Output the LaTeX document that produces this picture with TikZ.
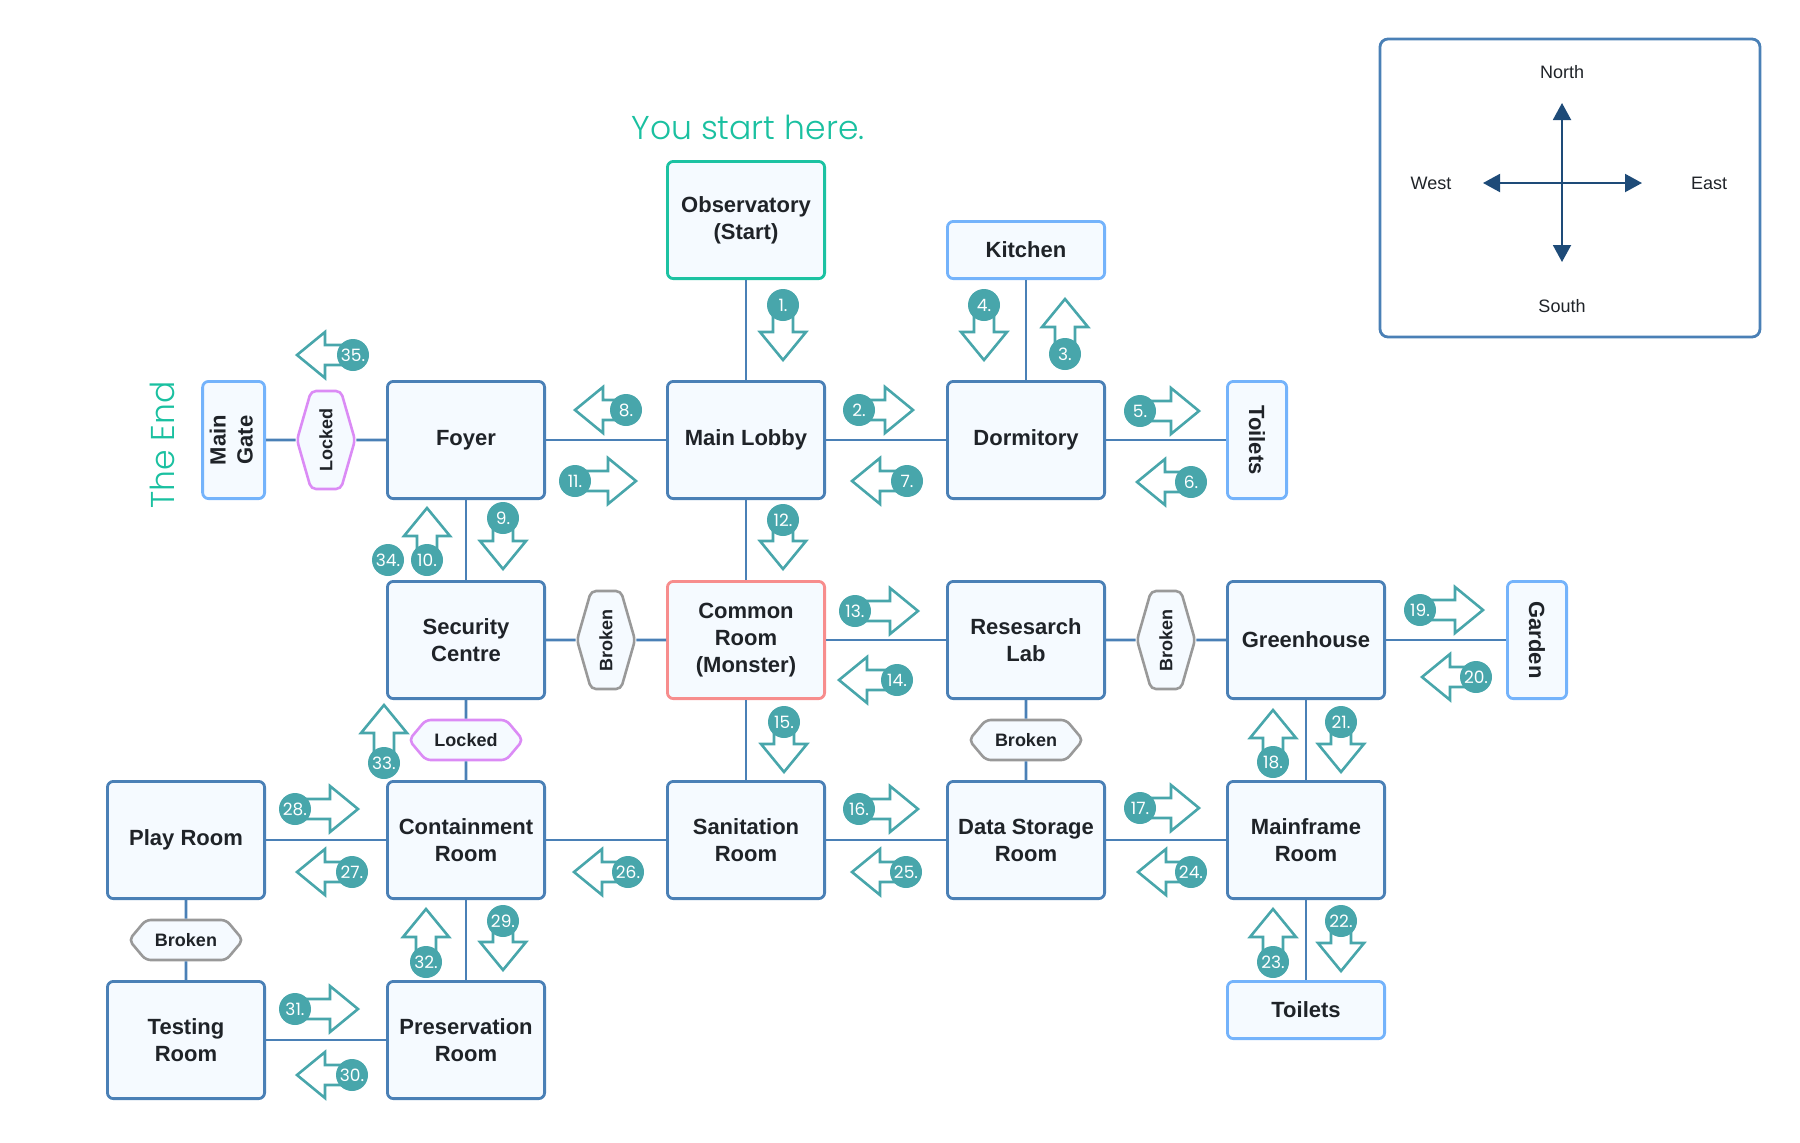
\documentclass[tikz,border=0pt]{standalone}
\usepackage{fontspec}
\setmainfont{Liberation Sans}
\newfontfamily\markfont{Poppins}
\newfontfamily\titlefont{Poppins Light}
\usetikzlibrary{shapes,shapes.symbols,arrows.meta,positioning,calc}

\definecolor{roomfill}{HTML}{F5FAFF}
\definecolor{roomline}{HTML}{4A80B6}
\definecolor{annexline}{HTML}{74B3FB}
\definecolor{startline}{HTML}{1CC2A2}
\definecolor{monsterline}{HTML}{F78D8D}
\definecolor{brokenline}{HTML}{999999}
\definecolor{lockedline}{HTML}{DB8BF5}
\definecolor{waycol}{HTML}{48A6AB}
\definecolor{ink}{HTML}{1F2328}
\definecolor{navy}{HTML}{1E4B78}
\definecolor{startcol}{HTML}{1AC0A0}

\begin{document}
\begin{tikzpicture}[
    x=0.5pt, y=-0.5pt,
    node distance=40pt and 60pt,
    room/.style={rectangle, draw=roomline, line width=1.4pt, fill=roomfill, rounded corners=3pt, minimum width=78.6pt, minimum height=58.6pt, inner sep=2pt, align=center, text=ink, font=\fontsize{11}{13.5}\selectfont\bfseries},
    annex/.style={room, draw=annexline},
    slim/.style={minimum width=29.6pt},
    low/.style={minimum height=28.6pt},
    hexa/.style={signal, signal to=east and west, line width=1.3pt, fill=roomfill, rounded corners=2.5pt, inner sep=0pt, text=ink, font=\fontsize{9}{11}\selectfont\bfseries},
    hflat/.style={hexa, minimum width=57pt, minimum height=20pt, signal pointer angle=100},
    htall/.style={hexa, minimum width=29pt, minimum height=49pt, signal pointer angle=148},
    broken/.style={draw=brokenline},
    locked/.style={draw=lockedline},
    link/.style={draw=roomline, line width=1.4pt},
    numdot/.style={circle, fill=waycol, text=white, minimum size=16pt, inner sep=0pt, font=\markfont\fontsize{8.5}{8.5}\selectfont},
    pics/way/.style={code={\draw[draw=waycol, fill=white, line width=1.3pt] (0,-10) -- (#1-28,-10) -- (#1-28,-23) -- (#1,0) -- (#1-28,23) -- (#1-28,10) -- (0,10) -- cycle;}},
    needle/.style={draw=navy, line width=1pt, -{Triangle[length=8.5pt, width=9pt]}},
    hint/.style={text=startcol, font=\titlefont\fontsize{16.5}{16.5}\selectfont},
    point/.style={text=ink, font=\fontsize{9}{9}\selectfont}
]
\useasboundingbox (0,0) rectangle (1800,1142);

% rooms
\node[room] (lobby) at (746,440) {Main Lobby};
\node[room, draw=startline, above=50pt of lobby] (obs) {Observatory\\(Start)};
\node[room, left=of lobby] (foyer) {Foyer};
\node[room, right=of lobby] (dorm) {Dormitory};
\node[annex, low, above=50pt of dorm] (kitchen) {Kitchen};
\node[annex, slim, right=of dorm] (wc) {\rotatebox{-90}{Toilets}};
\node[annex, slim, left=of foyer] (gate) {\rotatebox{90}{\begin{tabular}{@{}c@{}}Main\\Gate\end{tabular}}};
\node[room, draw=monsterline, below=of lobby] (common) {Common\\Room\\(Monster)};
\node[room, below=of foyer] (security) {Security\\Centre};
\node[room, below=of dorm] (lab) {Resesarch\\Lab};
\node[room, right=of lab] (greenhouse) {Greenhouse};
\node[annex, slim, right=of greenhouse] (garden) {\rotatebox{-90}{Garden}};
\node[room, below=of common] (sanitation) {Sanitation\\Room};
\node[room, below=of security] (containment) {Containment\\Room};
\node[room, left=of containment] (play) {Play Room};
\node[room, below=of lab] (storage) {Data Storage\\Room};
\node[room, below=of greenhouse] (mainframe) {Mainframe\\Room};
\node[annex, low, below=of mainframe] (wc2) {Toilets};
\node[room, below=of play] (testing) {Testing\\Room};
\node[room, below=of containment] (preservation) {Preservation\\Room};

% doors
\node[htall, locked] (lockgate) at ($(gate.east)!0.5!(foyer.west)$) {\rotatebox{90}{Locked}};
\node[htall, broken] (brokensec) at ($(security.east)!0.5!(common.west)$) {\rotatebox{90}{Broken}};
\node[htall, broken] (brokenlab) at ($(lab.east)!0.5!(greenhouse.west)$) {\rotatebox{90}{Broken}};
\node[hflat, locked] (lockcont) at ($(security.south)!0.5!(containment.north)$) {Locked};
\node[hflat, broken] (brokenstore) at ($(lab.south)!0.5!(storage.north)$) {Broken};
\node[hflat, broken] (brokenplay) at ($(play.south)!0.5!(testing.north)$) {Broken};

% corridors
\draw[link] (obs) -- (lobby);
\draw[link] (kitchen) -- (dorm);
\draw[link] (gate) -- (lockgate) -- (foyer);
\draw[link] (foyer) -- (lobby);
\draw[link] (lobby) -- (dorm);
\draw[link] (dorm) -- (wc);
\draw[link] (foyer) -- (security);
\draw[link] (lobby) -- (common);
\draw[link] (security) -- (brokensec) -- (common);
\draw[link] (common) -- (lab);
\draw[link] (lab) -- (brokenlab) -- (greenhouse);
\draw[link] (greenhouse) -- (garden);
\draw[link] (security) -- (lockcont) -- (containment);
\draw[link] (common) -- (sanitation);
\draw[link] (lab) -- (brokenstore) -- (storage);
\draw[link] (greenhouse) -- (mainframe);
\draw[link] (play) -- (containment);
\draw[link] (containment) -- (sanitation);
\draw[link] (sanitation) -- (storage);
\draw[link] (storage) -- (mainframe);
\draw[link] (mainframe) -- (wc2);
\draw[link] (play) -- (brokenplay) -- (testing);
\draw[link] (containment) -- (preservation);
\draw[link] (testing) -- (preservation);

% route
\pic[rotate=-90] at (783,305) {way=55}; \node[numdot] (s1) at (783,305) {1.};
\pic at (859,410) {way=54}; \node[numdot] (s2) at (859,410) {2.};
\pic[rotate=90] at (1065,354) {way=55}; \node[numdot] (s3) at (1065,354) {3.};
\pic[rotate=-90] at (984,305) {way=55}; \node[numdot] (s4) at (984,305) {4.};
\pic at (1140,411) {way=59}; \node[numdot] (s5) at (1140,411) {5.};
\pic[rotate=180] at (1191,482) {way=54}; \node[numdot] (s6) at (1191,482) {6.};
\pic[rotate=180] at (907,481) {way=55}; \node[numdot] (s7) at (907,481) {7.};
\pic[rotate=180] at (626,410) {way=51}; \node[numdot] (s8) at (626,410) {8.};
\pic[rotate=-90] at (503,518) {way=51}; \node[numdot] (s9) at (503,518) {9.};
\pic[rotate=90] at (427,560) {way=52}; \node[numdot] (s10) at (427,560) {10.};
\pic at (575,481) {way=61}; \node[numdot] (s11) at (575,481) {11.};
\pic[rotate=-90] at (783,520) {way=49}; \node[numdot] (s12) at (783,520) {12.};
\pic at (855,611) {way=63}; \node[numdot] (s13) at (855,611) {13.};
\pic[rotate=180] at (897,680) {way=58}; \node[numdot] (s14) at (897,680) {14.};
\pic[rotate=-90] at (784,722) {way=50}; \node[numdot] (s15) at (784,722) {15.};
\pic at (859,809) {way=59}; \node[numdot] (s16) at (859,809) {16.};
\pic at (1140,808) {way=59}; \node[numdot] (s17) at (1140,808) {17.};
\pic[rotate=90] at (1273,762) {way=52}; \node[numdot] (s18) at (1273,762) {18.};
\pic at (1420,610) {way=63}; \node[numdot] (s19) at (1420,610) {19.};
\pic[rotate=180] at (1476,677) {way=54}; \node[numdot] (s20) at (1476,677) {20.};
\pic[rotate=-90] at (1341,722) {way=50}; \node[numdot] (s21) at (1341,722) {21.};
\pic[rotate=-90] at (1341,921) {way=50}; \node[numdot] (s22) at (1341,921) {22.};
\pic[rotate=90] at (1273,962) {way=53}; \node[numdot] (s23) at (1273,962) {23.};
\pic[rotate=180] at (1191,872) {way=53}; \node[numdot] (s24) at (1191,872) {24.};
\pic[rotate=180] at (906,872) {way=54}; \node[numdot] (s25) at (906,872) {25.};
\pic[rotate=180] at (628,872) {way=54}; \node[numdot] (s26) at (628,872) {26.};
\pic[rotate=180] at (352,872) {way=55}; \node[numdot] (s27) at (352,872) {27.};
\pic at (295,809) {way=63}; \node[numdot] (s28) at (295,809) {28.};
\pic[rotate=-90] at (503,921) {way=49}; \node[numdot] (s29) at (503,921) {29.};
\pic[rotate=180] at (352,1075) {way=55}; \node[numdot] (s30) at (352,1075) {30.};
\pic at (295,1009) {way=63}; \node[numdot] (s31) at (295,1009) {31.};
\pic[rotate=90] at (426,962) {way=53}; \node[numdot] (s32) at (426,962) {32.};
\pic[rotate=90] at (384,763) {way=58}; \node[numdot] (s33) at (384,763) {33.};
\node[numdot] (s34) at (388,560) {34.};
\pic[rotate=180] at (353,355) {way=56}; \node[numdot] (s35) at (353,355) {35.};

% start and end
\node[hint] (start) at (748,127) {You start here.};
\node[hint, rotate=90] (theend) at (162,445) {The End};

% compass
\node[draw=roomline, line width=1.4pt, rounded corners=4pt, minimum width=190pt, minimum height=149pt] (legend) at (1570,188) {};
\coordinate (hub) at (1562,183);
\coordinate (tipn) at (1562,103);
\coordinate (tips) at (1562,262);
\coordinate (tipw) at (1483,183);
\coordinate (tipe) at (1642,183);
\node[point] (north) at (1562,72) {North};
\node[point] (south) at (1562,306) {South};
\node[point] (west) at (1431,183) {West};
\node[point] (east) at (1709,183) {East};
\draw[needle] (hub) -- (tipn);
\draw[needle] (hub) -- (tips);
\draw[needle] (hub) -- (tipw);
\draw[needle] (hub) -- (tipe);

\end{tikzpicture}
\end{document}
